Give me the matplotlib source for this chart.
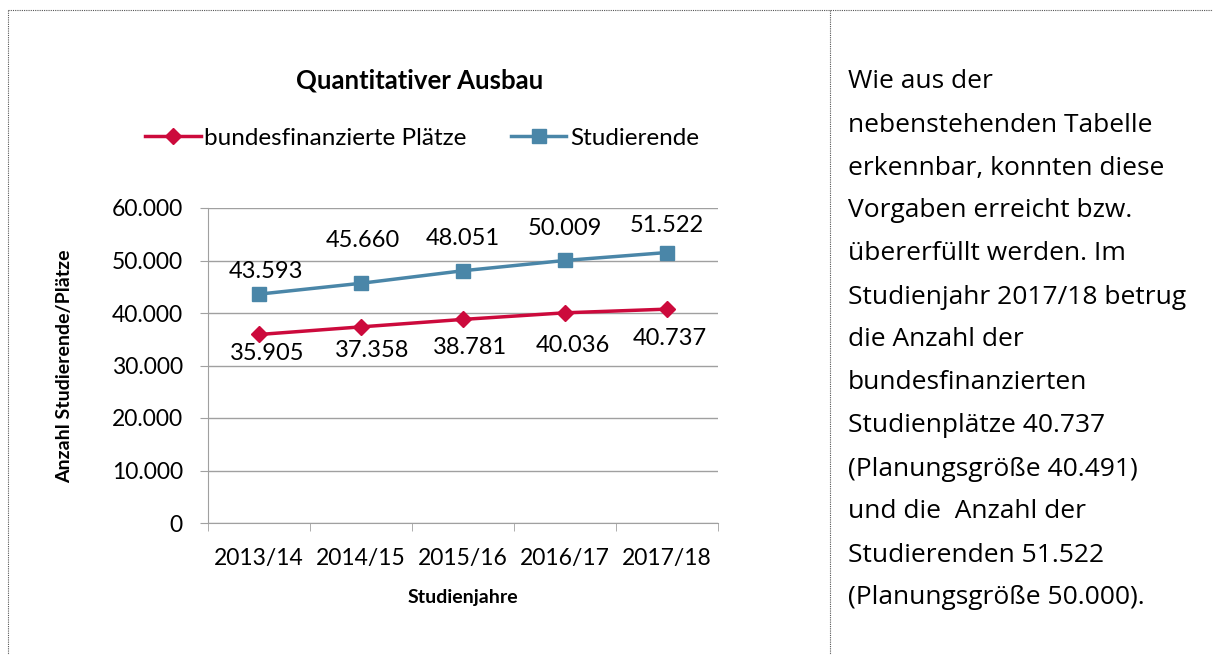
import matplotlib
matplotlib.use("Agg")
import matplotlib.pyplot as plt
from matplotlib.lines import Line2D

# data
jahre = ['2013/14', '2014/15', '2015/16', '2016/17', '2017/18']
plaetze = [35905, 37358, 38781, 40036, 40737]
studierende = [43593, 45660, 48051, 50009, 51522]
yticks = [0, 10000, 20000, 30000, 40000, 50000, 60000]

text_rechts = ["Wie aus der",
               "nebenstehenden Tabelle",
               "erkennbar, konnten diese",
               "Vorgaben erreicht bzw.",
               "übererfüllt werden. Im",
               "Studienjahr 2017/18 betrug",
               "die Anzahl der",
               "bundesfinanzierten",
               "Studienplätze 40.737",
               "(Planungsgröße 40.491)",
               "und die  Anzahl der",
               "Studierenden 51.522",
               "(Planungsgröße 50.000)."]

# label offsets (points), placed by hand in the original
off_blau = [(5, 16.5), (1, 31), (0, 23), (0, 23), (0, 19.5)]
off_rot = [(6, -13.7), (8, -17.3), (5, -20), (6, -23.8), (2, -21)]

rot = '#CC0A3C'
blau = '#4A86A8'
grau = '#A0A0A0'
plt.rcParams['font.family'] = ['Lato', 'DejaVu Sans']

W, H = 1213, 655
fig = plt.figure(figsize=(W / 100, H / 100), dpi=100)

def fx(px):
    return px / W

def fy(py):
    return 1 - py / H

# dotted frame
fig.add_artist(Line2D([fx(8), 1], [fy(10), fy(10)], color='#555555', lw=0.8, ls=(0, (1, 1))))
fig.add_artist(Line2D([fx(8), fx(8)], [fy(10), 0], color='#555555', lw=0.8, ls=(0, (1, 1))))
fig.add_artist(Line2D([fx(830), fx(830)], [fy(10), 0], color='#555555', lw=0.8, ls=(0, (1, 1))))

ax = fig.add_axes([fx(208), fy(523), fx(718) - fx(208), fy(208) - fy(523)])
x = list(range(len(jahre)))
ax.plot(x, plaetze, color=rot, lw=2.5, marker='D', ms=8.5, label='bundesfinanzierte Plätze')
ax.plot(x, studierende, color=blau, lw=2.5, marker='s', ms=10, label='Studierende')

for i in x:
    ax.annotate(f"{studierende[i]:,}".replace(',', '.'), (i, studierende[i]),
                xytext=off_blau[i], textcoords='offset points', ha='center', va='center', fontsize=17)
    ax.annotate(f"{plaetze[i]:,}".replace(',', '.'), (i, plaetze[i]),
                xytext=off_rot[i], textcoords='offset points', ha='center', va='center', fontsize=17)

ax.set_xlim(-0.5, len(jahre) - 0.5)
ax.set_ylim(0, 60000)
ax.set_yticks(yticks)
ax.set_yticklabels([f"{v:,}".replace(',', '.') for v in yticks], fontsize=16.5)
ax.set_xticks(x)
ax.set_xticklabels(jahre, fontsize=16.5)
ax.set_xticks([i - 0.5 for i in range(len(jahre) + 1)], minor=True)
ax.tick_params(axis='x', which='major', length=0, pad=18)
ax.tick_params(axis='x', which='minor', length=6, color=grau, direction='out')
ax.tick_params(axis='y', length=6, color=grau, direction='out', pad=12)
ax.grid(axis='y', color=grau, lw=1)
ax.set_axisbelow(True)
for s in ['top', 'right']:
    ax.spines[s].set_visible(False)
ax.spines['left'].set_color(grau)
ax.spines['bottom'].set_color(grau)

fig.text(fx(420), fy(80), 'Quantitativer Ausbau', ha='center', va='center', fontsize=18.5, fontweight='bold')
fig.text(fx(463), fy(597), 'Studienjahre', ha='center', va='center', fontsize=14, fontweight='bold')
fig.text(fx(65), fy(366), 'Anzahl Studierende/Plätze', ha='center', va='center', rotation=90,
         fontsize=14, fontweight='bold')

ax.legend(loc='center', bbox_to_anchor=(fx(422), fy(138)), bbox_transform=fig.transFigure,
          ncol=2, frameon=False, fontsize=17.5, handlelength=2.3, columnspacing=1.8, handletextpad=0.15)

for k, zeile in enumerate(text_rechts):
    fig.text(fx(848), fy(82 + 43 * k), zeile, ha='left', va='center', fontsize=19,
             family=['Open Sans', 'DejaVu Sans'])

fig.savefig('out.png', dpi=100)
